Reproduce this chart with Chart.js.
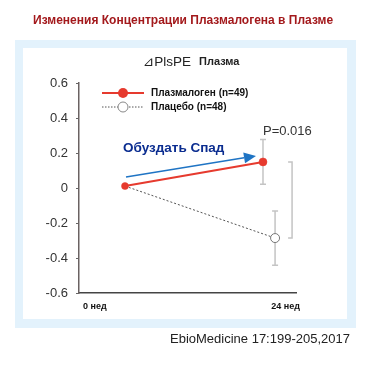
<!DOCTYPE html>
<html><head><meta charset="utf-8">
<script src="https://cdn.jsdelivr.net/npm/chart.js@4"></script>
<style>html,body{margin:0;padding:0;background:#fff;}canvas{display:block;}</style>
</head><body>
<canvas id="c" width="391" height="366"></canvas>
<script>
// ---- data ----
const weeks = [0, 24];
const xLabels = ['0 нед', '24 нед'];
const seriesNames = ['Плазмалоген (n=49)', 'Плацебо (n=48)'];
const plasmalogenMean = [0.011, 0.149];
const plasmalogenErr = [0, 0.128];
const placeboMean = [0.011, -0.286];
const placeboErr = [0, 0.155];
const yTicks = [-0.6, -0.4, -0.2, 0, 0.2, 0.4, 0.6];
const titleText = 'Изменения Концентрации Плазмалогена в Плазме';
const panelTitle = ['⊿PlsPE', 'Плазма'];
const annotationText = 'Обуздать Спад';
const pText = 'P=0.016';
const citation = 'EbioMedicine 17:199-205,2017';

// ---- style ----
const FONT = '"Liberation Sans", Arial, "DejaVu Sans", sans-serif';
const RED = '#e63a2e';
const DODGE = 2.1; // horizontal dodge (weeks) for placebo end point

const plasData = weeks.map((w, i) => ({x: w, y: plasmalogenMean[i]}));
const placData = weeks.map((w, i) => ({x: w + (i > 0 ? DODGE : 0), y: placeboMean[i]}));

const decor = {
  id: 'decor',
  beforeDraw(chart) {
    const ctx = chart.ctx;
    ctx.save();
    ctx.fillStyle = '#fff';
    ctx.fillRect(0, 0, chart.width, chart.height);
    ctx.fillStyle = '#e3f2fc';
    ctx.fillRect(15, 40, 341, 288);
    ctx.fillStyle = '#fff';
    ctx.fillRect(23, 48, 324, 271);
    // title
    ctx.fillStyle = '#a3191c';
    ctx.font = 'bold 12px ' + FONT;
    ctx.textBaseline = 'middle';
    ctx.textAlign = 'left';
    ctx.fillText(titleText, 33, 21);
    // panel title
    ctx.fillStyle = '#222';
    ctx.font = '13.5px ' + FONT;
    ctx.fillText(panelTitle[0], 143, 62);
    ctx.font = 'bold 11px ' + FONT;
    ctx.fillText(panelTitle[1], 199, 62);
    // citation
    ctx.font = '13px ' + FONT;
    ctx.fillStyle = '#222';
    ctx.fillText(citation, 170, 339);
    ctx.restore();
  },
  beforeDatasetsDraw(chart) {
    const ctx = chart.ctx;
    const xs = chart.scales.x, ys = chart.scales.y;
    ctx.save();
    ctx.strokeStyle = '#c4c4c4';
    ctx.lineWidth = 1.5;
    const bars = [[plasData, plasmalogenErr], [placData, placeboErr]];
    bars.forEach(([d, e]) => {
      d.forEach((p, i) => {
        if (!e[i]) return;
        const x = xs.getPixelForValue(p.x);
        const y1 = ys.getPixelForValue(p.y + e[i]);
        const y2 = ys.getPixelForValue(p.y - e[i]);
        ctx.beginPath();
        ctx.moveTo(x, y1); ctx.lineTo(x, y2);
        ctx.moveTo(x - 3, y1); ctx.lineTo(x + 3, y1);
        ctx.moveTo(x - 3, y2); ctx.lineTo(x + 3, y2);
        ctx.stroke();
      });
    });
    // significance bracket
    const bx = xs.getPixelForValue(placData[1].x) + 17;
    const by1 = ys.getPixelForValue(plasData[1].y);
    const by2 = ys.getPixelForValue(placData[1].y);
    ctx.beginPath();
    ctx.moveTo(bx - 4, by1); ctx.lineTo(bx, by1); ctx.lineTo(bx, by2); ctx.lineTo(bx - 4, by2);
    ctx.stroke();
    // p text
    ctx.fillStyle = '#333';
    ctx.font = '13px ' + FONT;
    ctx.textBaseline = 'middle';
    ctx.fillText(pText, xs.getPixelForValue(plasData[1].x), ys.getPixelForValue(plasData[1].y + plasmalogenErr[1]) - 8);
    // trend arrow
    const ax1 = xs.getPixelForValue(plasData[0].x) + 1, ay1 = ys.getPixelForValue(plasData[0].y) - 9;
    const ax2 = xs.getPixelForValue(plasData[1].x) - 7, ay2 = ys.getPixelForValue(plasData[1].y) - 6;
    const ang = Math.atan2(ay2 - ay1, ax2 - ax1);
    const hl = 12, hw = 5.5;
    const bxh = ax2 - hl * Math.cos(ang), byh = ay2 - hl * Math.sin(ang);
    ctx.strokeStyle = '#1f74c4';
    ctx.fillStyle = '#1f74c4';
    ctx.lineWidth = 1.5;
    ctx.beginPath(); ctx.moveTo(ax1, ay1); ctx.lineTo(bxh, byh); ctx.stroke();
    ctx.beginPath();
    ctx.moveTo(ax2, ay2);
    ctx.lineTo(bxh + hw * Math.sin(ang), byh - hw * Math.cos(ang));
    ctx.lineTo(bxh - hw * Math.sin(ang), byh + hw * Math.cos(ang));
    ctx.closePath(); ctx.fill();
    ctx.fillStyle = '#0b2d90';
    ctx.font = 'bold 13.5px ' + FONT;
    ctx.fillText(annotationText, ax1 - 3, ay1 - 29);
    ctx.restore();
  },
  afterDraw(chart) {
    const ctx = chart.ctx;
    const ca = chart.chartArea;
    ctx.save();
    // x labels
    ctx.fillStyle = '#111';
    ctx.font = 'bold 9px ' + FONT;
    ctx.textBaseline = 'middle';
    ctx.textAlign = 'left';
    ctx.fillText(xLabels[0], ca.left + 4, ca.bottom + 14);
    ctx.textAlign = 'right';
    ctx.fillText(xLabels[1], ca.right + 4, ca.bottom + 14);
    // legend
    ctx.textAlign = 'left';
    const lx = 102, ly = [93, 107];
    ctx.strokeStyle = RED; ctx.lineWidth = 2;
    ctx.beginPath(); ctx.moveTo(lx, ly[0]); ctx.lineTo(lx + 42, ly[0]); ctx.stroke();
    ctx.fillStyle = RED;
    ctx.beginPath(); ctx.arc(lx + 21, ly[0], 5, 0, Math.PI * 2); ctx.fill();
    ctx.strokeStyle = '#555'; ctx.lineWidth = 1; ctx.setLineDash([1.5, 1.5]);
    ctx.beginPath(); ctx.moveTo(lx, ly[1]); ctx.lineTo(lx + 42, ly[1]); ctx.stroke();
    ctx.setLineDash([]);
    ctx.fillStyle = '#fff'; ctx.strokeStyle = '#888';
    ctx.beginPath(); ctx.arc(lx + 21, ly[1], 5, 0, Math.PI * 2); ctx.fill(); ctx.stroke();
    ctx.fillStyle = '#111';
    ctx.font = 'bold 10px ' + FONT;
    ctx.fillText(seriesNames[0], 151, ly[0]);
    ctx.fillText(seriesNames[1], 151, ly[1]);
    ctx.restore();
  }
};

new Chart(document.getElementById('c'), {
  type: 'line',
  data: {
    datasets: [
      {label: seriesNames[0], data: plasData, borderColor: RED, borderWidth: 2,
       pointRadius: [3.5, 4], pointBackgroundColor: RED, pointBorderColor: RED, pointBorderWidth: 0.5, order: 0},
      {label: seriesNames[1], data: placData, borderColor: '#555', borderWidth: 1, borderDash: [2, 2],
       pointRadius: [0, 4.5], pointBackgroundColor: '#fff', pointBorderColor: '#777', pointBorderWidth: 1, order: 1}
    ]
  },
  options: {
    responsive: false,
    animation: false,
    events: [],
    layout: {padding: {left: 35, top: 83, right: 95, bottom: 73}},
    plugins: {legend: {display: false}, tooltip: {enabled: false}},
    scales: {
      x: {
        type: 'linear', min: -8, max: 29.74,
        ticks: {display: false},
        grid: {display: false},
        border: {display: true, color: '#444', width: 1.5},
        afterFit(s) { s.height = 0; }
      },
      y: {
        min: -0.6, max: 0.6,
        afterBuildTicks(s) { s.ticks = yTicks.map(v => ({value: v})); },
        ticks: {
          color: '#333', padding: 8,
          font: {family: FONT, size: 13},
          callback: v => (Math.abs(v) < 1e-9 ? '0' : (Math.round(v * 10) / 10).toFixed(1))
        },
        grid: {drawOnChartArea: false, drawTicks: true, tickLength: 3, color: '#666'},
        border: {display: true, color: '#6a6262', width: 1.5},
        afterFit(s) { s.width = 44; }
      }
    }
  },
  plugins: [decor]
});
</script>
</body></html>
